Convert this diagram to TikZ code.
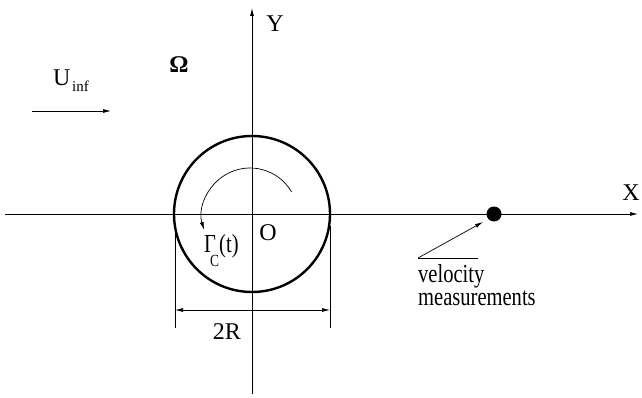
\documentclass[tikz,border=0pt]{standalone}
\usepackage{fontspec}
\setmainfont[FakeStretch=0.79]{Liberation Serif}
\newfontfamily\widefont{Liberation Serif}
\usetikzlibrary{arrows.meta}
\tikzset{
  ax/.style={line width=0.8pt, -{Latex[length=8pt,width=4pt]}},
  thin/.style={line width=0.7pt},
  tip/.style={line width=0.7pt, -{Latex[length=8pt,width=4pt]}},
  lbl/.style={inner sep=0pt, font=\fontsize{26}{23}\selectfont},
  wlbl/.style={inner sep=0pt, font=\widefont\fontsize{24}{24}\selectfont},
  sub/.style={inner sep=0pt, font=\fontsize{17}{17}\selectfont},
  vline/.style={lbl, anchor=base west, text height=17pt, text depth=4pt},
}
\begin{document}
\begin{tikzpicture}[x=1pt,y=-1pt]
\useasboundingbox (0,0) rectangle (642,398);
% axes
\coordinate (xs) at (5,214);
\coordinate (xe) at (638,214);
\coordinate (ys) at (252,394);
\coordinate (ye) at (252,8);
\draw[ax] (xs) -- (xe);
\draw[ax] (ys) -- (ye);
\node[wlbl] (X) at (631,193) {X};
\node[wlbl] (Y) at (275,24) {Y};
% cylinder
\node[draw, circle, line width=2.4pt, minimum size=156pt, inner sep=0pt] (cyl) at (252,214) {};
\node[wlbl] (O) at (268,233) {O};
% circulation arc
\coordinate (as) at (291.6,192);
\draw[tip] (as) arc[start angle=30, end angle=197, radius=48pt];
\node[lbl, anchor=base west, text depth=0pt] (G) at (204,252) {Γ};
\node[sub, anchor=base west, text height=11pt, text depth=0pt] (Gc) at (210,266) {C};
\node[lbl, anchor=base west] (Gt) at (219,252) {(t)};
% free stream
\coordinate (us) at (32,111);
\coordinate (ue) at (111,111);
\draw[tip] (us) -- (ue);
\node[wlbl, anchor=base west] (U) at (53,86) {U};
\node[sub, font=\widefont\fontsize{15}{15}\selectfont, anchor=base west] (Ui) at (72,92) {inf};
\node[wlbl, font=\widefont\fontsize{24}{24}\selectfont\bfseries] (Om) at (179,65) {Ω};
% dimension 2R
\coordinate (e1a) at (175,226);
\coordinate (e1b) at (175,328);
\coordinate (e2a) at (330,226);
\coordinate (e2b) at (330,328);
\draw[thin] (e1a) -- (e1b);
\draw[thin] (e2a) -- (e2b);
\coordinate (d1) at (175,310);
\coordinate (d2) at (330,310);
\draw[thin, {Latex[length=8pt,width=4pt]}-{Latex[length=8pt,width=4pt]}] (d1) -- (d2);
\node[wlbl] (R2) at (227,332) {2R};
% velocity probe
\node[fill, circle, minimum size=15pt, inner sep=0pt] (dot) at (494,214) {};
\coordinate (la) at (478,258);
\coordinate (lb) at (418,258);
\coordinate (lt) at (483,222);
\draw[thin] (la) -- (lb);
\draw[tip] (lb) -- (lt);
\node[vline] (v1) at (418,282) {velocity};
\node[vline] (v2) at (418,305) {measurements};
\end{tikzpicture}
\end{document}
